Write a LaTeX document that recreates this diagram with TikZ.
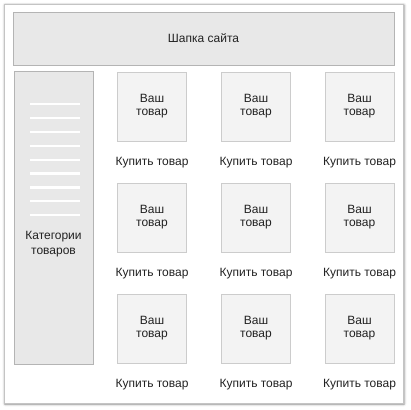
\documentclass[tikz,border=0pt]{standalone}
\usepackage{fontspec}
\setmainfont{Liberation Sans}
\usetikzlibrary{shadows.blur}
\definecolor{frameline}{HTML}{C4C4C4}
\definecolor{blockfill}{HTML}{E8E8E8}
\definecolor{blockline}{HTML}{B4B4B4}
\definecolor{itemfill}{HTML}{F3F3F3}
\definecolor{itemline}{HTML}{CCCCCC}
\definecolor{inktext}{HTML}{222222}
\tikzset{
  block/.style={draw=blockline,fill=blockfill,inner sep=0pt,line width=0.8pt,
    text=inktext,font=\fontsize{12}{14}\selectfont,align=center},
  item/.style={draw=itemline,fill=itemfill,inner sep=0pt,line width=0.8pt,
    minimum width=69pt,minimum height=69pt,text=inktext,
    font=\fontsize{12}{13}\selectfont,align=center},
  buy/.style={text=inktext,font=\fontsize{12}{14}\selectfont,inner sep=0pt}
}
\begin{document}
\begin{tikzpicture}[x=1pt,y=-1pt]
  \useasboundingbox (0,0) rectangle (410,410);
  \node [draw=frameline,fill=white,line width=0.8pt,minimum width=399pt,minimum height=399pt,
    blur shadow={shadow xshift=1pt,shadow yshift=-1pt,shadow blur radius=2.5pt,shadow opacity=45}]
    (page) at (203.5,203.5) {};
  \node [block,minimum width=381pt,minimum height=53pt] (header) at (203.5,38.5) {Шапка сайта};
  \node [block,minimum width=79pt,minimum height=293pt] (cats) at (53.5,217.5) {};
  \foreach \i in {0,...,8}
    \draw [white,line width=2.2pt] (30,104+13.9*\i) -- (80,104+13.9*\i);
  \node [text=inktext,font=\fontsize{12}{15}\selectfont,align=center] (catlabel) at (53.5,244.5)
    {Категории\\товаров};
  \foreach \r/\y in {1/106.5,2/217.5,3/328.5}
    \foreach \c/\x in {1/152,2/256,3/359.5}{
      \node [item] (p-\r-\c) at (\x,\y) {Ваш\\товар};
      \node [buy] (b-\r-\c) at (\x,\y+56.5) {Купить товар};
    }
\end{tikzpicture}
\end{document}
